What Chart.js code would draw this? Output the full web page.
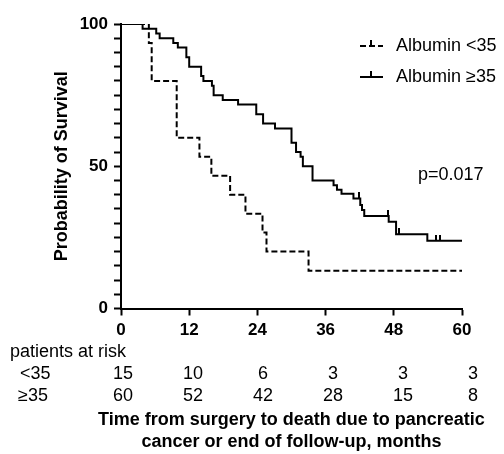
<!DOCTYPE html>
<html>
<head>
<meta charset="utf-8">
<script src="https://cdn.jsdelivr.net/npm/chart.js@4/dist/chart.umd.min.js"></script>
<style>
html,body{margin:0;padding:0;background:#fff;}
#c{display:block;}
</style>
</head>
<body>
<canvas id="c" width="504" height="454"></canvas>
<script>
// ---- data ----
const seriesNames = ['Albumin <35', 'Albumin \u226535'];
const lowTimes  = [0, 4.9, 5.4, 9.8, 13.8, 15.9, 19.2, 21.9, 24.9, 25.6, 33.0, 60];
const lowSurv   = [100, 93.3, 80.0, 60.0, 53.3, 46.7, 40.0, 33.3, 26.7, 20.0, 13.3, 13.3];
const highTimes = [0, 3.8, 6.2, 6.8, 9.2, 10.0, 11.5, 12.0, 14.1, 14.5, 16.0, 16.3, 17.9, 20.6, 23.8, 25.0, 27.1, 30.0, 30.8, 31.6, 32.0, 33.7, 37.4, 38.0, 38.8, 40.9, 42.1, 42.4, 42.8, 47.1, 48.4, 53.9, 60];
const highSurv  = [100, 98.3, 96.7, 95.0, 93.3, 91.7, 88.3, 85.0, 81.7, 80.0, 78.3, 75.0, 73.3, 71.7, 68.3, 65.0, 63.3, 58.3, 55.0, 53.3, 50.0, 45.0, 43.3, 41.7, 40.3, 38.7, 36.4, 34.6, 32.5, 30.5, 26.1, 23.8, 23.8];
const censorTimes = [41.9, 47.0, 49.0, 55.5, 56.1];
const censorSurv  = [38.7, 32.5, 26.1, 23.8, 23.8];
const xTicks = [0, 12, 24, 36, 48, 60];
const yLabels = [0, 50, 100];
const riskLow  = [15, 10, 6, 3, 3, 3];
const riskHigh = [60, 52, 42, 28, 15, 8];
const riskTitle = 'patients at risk';
const riskRowNames = ['<35', '\u226535'];
const pText = 'p=0.017';
const xTitle = ['Time from surgery to death due to pancreatic', 'cancer or end of follow-up, months'];
const yTitle = 'Probability of Survival';

// ---- styling ----
const FONT = '"Liberation Sans", Arial, Helvetica, sans-serif';
const pts = (xs, ys) => xs.map((x, i) => ({x: x, y: ys[i]}));

// censor tick (draws upward from the point)
const tick = document.createElement('canvas');
tick.width = 2; tick.height = 12;
const tctx = tick.getContext('2d');
tctx.fillStyle = '#000';
tctx.fillRect(0, 0, 2, 6);

const extras = {
  id: 'extras',
  afterDraw(chart) {
    const ctx = chart.ctx;
    const xs = chart.scales.x;
    const ca = chart.chartArea;
    ctx.save();
    ctx.fillStyle = '#000';
    ctx.strokeStyle = '#000';
    ctx.font = '18px ' + FONT;
    ctx.textBaseline = 'middle';

    // legend
    const legY = [46, 77];
    seriesNames.forEach((name, i) => {
      const y = legY[i];
      ctx.lineWidth = 2;
      ctx.setLineDash(i === 0 ? [6, 3] : []);
      ctx.beginPath();
      ctx.moveTo(360, y);
      ctx.lineTo(383, y);
      ctx.stroke();
      ctx.setLineDash([]);
      ctx.beginPath();
      ctx.moveTo(371, y);
      ctx.lineTo(371, y - 6);
      ctx.stroke();
      ctx.textAlign = 'left';
      ctx.fillText(name, 396, y);
    });

    // p value
    ctx.textAlign = 'left';
    ctx.fillText(pText, 418, 175);

    // at-risk table
    ctx.fillText(riskTitle, 10, 352.5);
    ctx.fillText(riskRowNames[0], 20, 374.5);
    ctx.fillText(riskRowNames[1], 18, 396.5);
    ctx.textAlign = 'center';
    xTicks.forEach((t, i) => {
      const px = xs.getPixelForValue(t) + 2 + 0.15 * t;
      ctx.fillText(String(riskLow[i]), px, 374.5);
      ctx.fillText(String(riskHigh[i]), px, 396.5);
    });

    // x axis title (two centred lines)
    ctx.font = 'bold 18px ' + FONT;
    const cx = (ca.left + ca.right) / 2;
    ctx.fillText(xTitle[0], cx, 420.5);
    ctx.fillText(xTitle[1], cx, 442.5);
    ctx.restore();
  }
};

new Chart(document.getElementById('c'), {
  type: 'line',
  data: {
    datasets: [
      {
        label: 'censored',
        data: pts(censorTimes, censorSurv),
        showLine: false,
        pointStyle: tick,
        pointRadius: 6,
        pointHoverRadius: 6,
        borderColor: '#000',
        backgroundColor: '#000'
      },
      {
        label: seriesNames[1],
        data: pts(highTimes, highSurv),
        stepped: 'before',
        borderColor: '#000',
        borderWidth: 2,
        pointRadius: 0,
        fill: false
      },
      {
        label: seriesNames[0],
        data: pts(lowTimes, lowSurv),
        stepped: 'before',
        borderColor: '#000',
        borderWidth: 2,
        borderDash: [6, 3],
        pointRadius: 0,
        fill: false
      }
    ]
  },
  options: {
    responsive: false,
    devicePixelRatio: 1,
    animation: false,
    layout: { padding: { left: 51, right: 42, top: 24, bottom: 1 } },
    plugins: { legend: { display: false }, tooltip: { enabled: false } },
    scales: {
      x: {
        type: 'linear',
        min: 0, max: 60,
        afterBuildTicks: s => { s.ticks = xTicks.map(v => ({ value: v })); },
        afterFit: s => { s.height = 144.5; },
        ticks: { color: '#000', padding: 5, font: { family: FONT, size: 17, weight: 'bold' }, maxRotation: 0 },
        grid: { display: true, drawOnChartArea: false, drawTicks: true, tickLength: 7, tickWidth: 2, tickColor: '#000' },
        border: { display: true, color: '#000', width: 2 },
        title: { display: false }
      },
      y: {
        min: 0, max: 100,
        afterFit: s => { s.width = 70; },
        ticks: {
          stepSize: 5, maxTicksLimit: 30, autoSkip: false, color: '#000', padding: 6,
          font: { family: FONT, size: 17, weight: 'bold' },
          callback: v => yLabels.includes(v) ? String(v) : ''
        },
        grid: { display: true, drawOnChartArea: false, drawTicks: true, tickLength: 7, tickWidth: 2, tickColor: '#000' },
        border: { display: true, color: '#000', width: 2 },
        title: { display: true, text: yTitle, color: '#000', padding: { top: 0, bottom: 0 },
                 font: { family: FONT, size: 18, weight: 'bold', lineHeight: 1.22 } }
      }
    }
  },
  plugins: [extras]
});
</script>
</body>
</html>
